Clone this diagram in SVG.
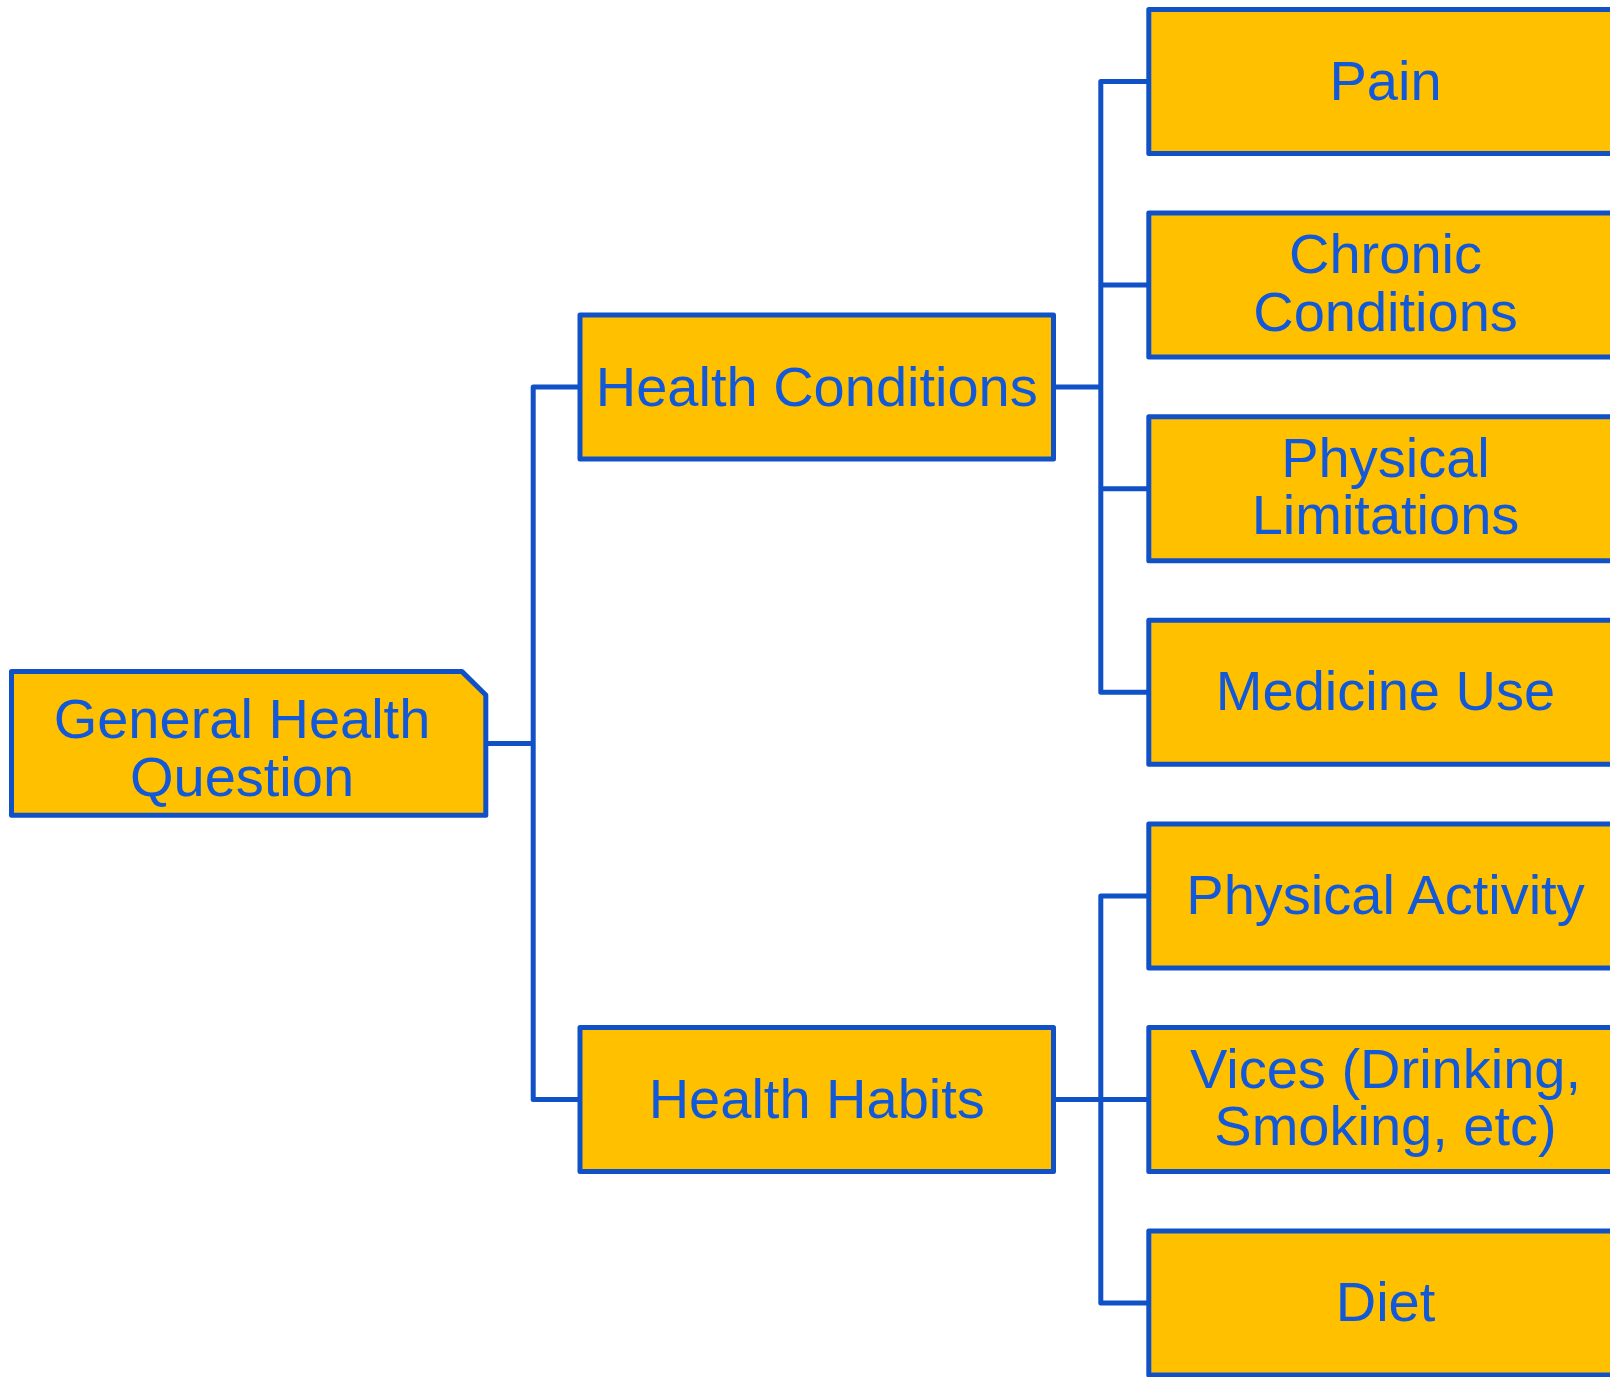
<svg xmlns="http://www.w3.org/2000/svg" width="1610" height="1377" viewBox="0 0 1610 1377">
<style>
.box{fill:#FFC000;stroke:#1151C8;stroke-width:5;stroke-linejoin:round}
.lbl{font-family:"Liberation Sans",Arial,sans-serif;font-size:56px;fill:#1259D9;text-anchor:middle}
.conn{fill:none;stroke:#1151C8;stroke-width:5;stroke-linejoin:round}
</style>
<rect width="1610" height="1377" fill="#FFFFFF"/>
<g id="connectors">
<path class="conn" d="M485.8,743.4 H533.2 M580,387 H533.2 V1099.5 H580"/>
<path class="conn" d="M1053.5,387 H1100.8 M1148.8,81.6 H1100.8 V692.3 H1148.8 M1100.8,285.1 H1148.8 M1100.8,488.7 H1148.8"/>
<path class="conn" d="M1053.5,1099.5 H1148.8 M1148.8,895.9 H1100.8 V1303.1 H1148.8"/>
</g>
<g id="root">
<path class="box" d="M11.5,671.6 H462 L485.8,695 V815.3 H11.5 Z"/>
<text class="lbl" x="242" y="738.2">General Health</text>
<text class="lbl" x="242" y="795.7">Question</text>
</g>
<g id="health-conditions">
<rect class="box" x="580" y="315" width="473.5" height="144"/>
<text class="lbl" x="816.75" y="405.5">Health Conditions</text>
</g>
<g id="health-habits">
<rect class="box" x="580" y="1027.5" width="473.5" height="144"/>
<text class="lbl" x="816.75" y="1118">Health Habits</text>
</g>
<g id="pain">
<rect class="box" x="1148.8" y="9.5" width="473.5" height="144"/>
<text class="lbl" x="1385.5" y="99.5">Pain</text>
</g>
<g id="chronic-conditions">
<rect class="box" x="1148.8" y="213.1" width="473.5" height="144"/>
<text class="lbl" x="1385.5" y="273.3">Chronic</text>
<text class="lbl" x="1385.5" y="330.8">Conditions</text>
</g>
<g id="physical-limitations">
<rect class="box" x="1148.8" y="416.7" width="473.5" height="144"/>
<text class="lbl" x="1385.5" y="476.9">Physical</text>
<text class="lbl" x="1385.5" y="534.4">Limitations</text>
</g>
<g id="medicine-use">
<rect class="box" x="1148.8" y="620.3" width="473.5" height="144"/>
<text class="lbl" x="1385.5" y="710.3">Medicine Use</text>
</g>
<g id="physical-activity">
<rect class="box" x="1148.8" y="823.9" width="473.5" height="144"/>
<text class="lbl" x="1385.5" y="913.9">Physical Activity</text>
</g>
<g id="vices">
<rect class="box" x="1148.8" y="1027.5" width="473.5" height="144"/>
<text class="lbl" x="1385.5" y="1087.7">Vices (Drinking,</text>
<text class="lbl" x="1385.5" y="1145.2">Smoking, etc)</text>
</g>
<g id="diet">
<rect class="box" x="1148.8" y="1231.1" width="473.5" height="144"/>
<text class="lbl" x="1385.5" y="1321.1">Diet</text>
</g>
</svg>
